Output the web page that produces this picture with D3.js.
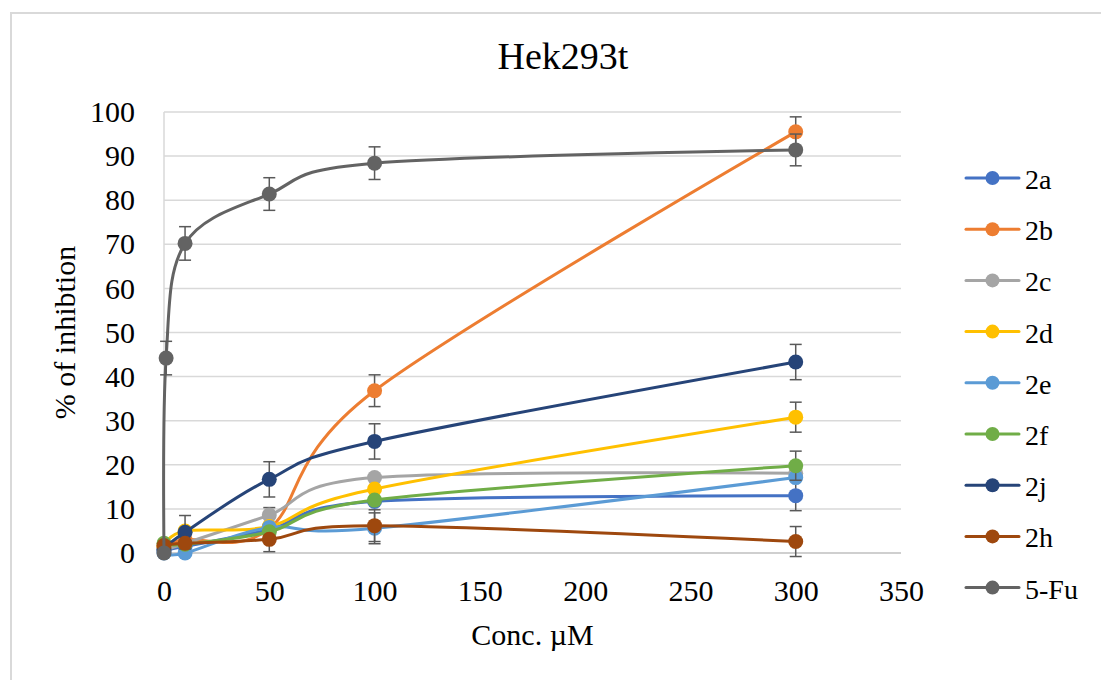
<!DOCTYPE html>
<html>
<head>
<meta charset="utf-8">
<script src="https://cdn.jsdelivr.net/npm/d3@7"></script>
<style>
    body { margin: 0; background: #ffffff; }
    text { font-family: "Liberation Serif", "Times New Roman", serif; fill: #000000; }
</style>
</head>
<body>
<svg id="graph" width="1101" height="680"></svg>
<script>
// Données
const concentrations = [0, 10, 50, 100, 300];
const concentrations5Fu = [0, 1, 10, 50, 100, 300];

const nomsSeries = ["2a", "2b", "2c", "2d", "2e", "2f", "2j", "2h", "5-Fu"];
const couleurs = ["#4472C4", "#ED7D31", "#A5A5A5", "#FFC000", "#5B9BD5", "#70AD47", "#264478", "#9E480E", "#636363"];

const valeurs2a = [0.5, 1.5, 5.3, 11.7, 13.0];
const valeurs2b = [1.5, 3.0, 5.5, 36.8, 95.5];
const valeurs2c = [0.5, 2.2, 8.6, 17.1, 18.1];
const valeurs2d = [1.5, 5.0, 6.0, 14.5, 30.8];
const valeurs2e = [0.0, 0.0, 5.8, 5.6, 17.1];
const valeurs2f = [2.2, 2.0, 4.8, 12.0, 19.8];
const valeurs2j = [0.8, 4.7, 16.7, 25.3, 43.3];
const valeurs2h = [1.7, 2.2, 3.1, 6.2, 2.6];
const valeurs5Fu = [0.0, 44.2, 70.2, 81.4, 88.4, 91.4];

// Barres d'erreur (0 = pas de barre visible)
const erreurs2a = [0, 0, 5.0, 0, 3.4];
const erreurs2b = [0, 0, 0, 3.6, 3.4];
const erreurs2c = [0, 0, 0, 0, 0];
const erreurs2d = [0, 0, 0, 0, 3.4];
const erreurs2e = [0, 0, 0, 3.5, 0];
const erreurs2f = [0, 0, 0, 0, 3.3];
const erreurs2j = [0, 3.8, 4.0, 4.0, 4.0];
const erreurs2h = [0, 0, 0, 3.6, 3.4];
const erreurs5Fu = [0, 3.8, 3.8, 3.7, 3.7, 3.6];

const xTicks = [0, 50, 100, 150, 200, 250, 300, 350];
const yTicks = [0, 10, 20, 30, 40, 50, 60, 70, 80, 90, 100];

const titre = "Hek293t";
const titreX = "Conc. µM";
const titreY = "% of inhibtion";

const police = '"Liberation Serif", "Times New Roman", serif';

// Construction des séries
const valeurs = [valeurs2a, valeurs2b, valeurs2c, valeurs2d, valeurs2e, valeurs2f, valeurs2j, valeurs2h, valeurs5Fu];
const erreurs = [erreurs2a, erreurs2b, erreurs2c, erreurs2d, erreurs2e, erreurs2f, erreurs2j, erreurs2h, erreurs5Fu];

const series = nomsSeries.map((nom, i) => {
    const xs = nom === "5-Fu" ? concentrations5Fu : concentrations;
    return {
        nom: nom,
        couleur: couleurs[i],
        points: xs.map((c, j) => ({ x: c, y: valeurs[i][j], err: erreurs[i][j] }))
    };
});

let svg = d3.select("svg");

// Cadre du graphique
svg.append("rect")
    .attr("x", 11)
    .attr("y", 13)
    .attr("width", 1200)
    .attr("height", 800)
    .attr("fill", "none")
    .attr("stroke", "#d9d9d9")
    .attr("stroke-width", 2);

// Échelles
const xScale = d3.scaleLinear().domain([0, 350]).range([164, 901]);
const yScale = d3.scaleLinear().domain([0, 100]).range([553, 112]);

// Lignes de grille horizontales
svg.append("g")
    .selectAll("line")
    .data(yTicks)
    .enter()
    .append("line")
    .attr("x1", xScale(0))
    .attr("x2", xScale(350))
    .attr("y1", d => yScale(d))
    .attr("y2", d => yScale(d))
    .attr("stroke", d => d === 0 ? "#bfbfbf" : "#d9d9d9")
    .attr("stroke-width", 1.5);

// Axe vertical (trait gris clair)
svg.append("line")
    .attr("x1", xScale(0))
    .attr("x2", xScale(0))
    .attr("y1", yScale(0))
    .attr("y2", yScale(100))
    .attr("stroke", "#d9d9d9")
    .attr("stroke-width", 1.5);

// Graduations
const yAxis = svg.append("g")
    .attr("transform", `translate(${xScale(0)},0)`)
    .attr("font-family", police)
    .call(d3.axisLeft(yScale).tickValues(yTicks).tickSize(0).tickPadding(29));
yAxis.select(".domain").remove();
yAxis.selectAll("text")
    .style("font-family", police)
    .style("font-size", "30px")
    .attr("fill", "#000");

const xAxis = svg.append("g")
    .attr("transform", `translate(0,${yScale(0)})`)
    .attr("font-family", police)
    .call(d3.axisBottom(xScale).tickValues(xTicks).tickSize(0).tickPadding(27));
xAxis.select(".domain").remove();
xAxis.selectAll("text")
    .style("font-family", police)
    .style("font-size", "30px")
    .attr("fill", "#000");

// Titres
svg.append("text")
    .text(titre)
    .attr("x", 563)
    .attr("y", 69)
    .attr("text-anchor", "middle")
    .style("font-size", "38px");

svg.append("text")
    .text(titreX)
    .attr("x", (xScale(0) + xScale(350)) / 2)
    .attr("y", 645)
    .attr("text-anchor", "middle")
    .style("font-size", "30px");

svg.append("text")
    .text(titreY)
    .attr("transform", `translate(75,${(yScale(0) + yScale(100)) / 2}) rotate(-90)`)
    .attr("text-anchor", "middle")
    .style("font-size", "30px");

// Courbes lissées
const ligne = d3.line()
    .x(d => xScale(d.x))
    .y(d => yScale(d.y))
    .curve(d3.curveCardinal.tension(0));

series.forEach(s => {
    const g = svg.append("g").attr("class", "serie");

    g.append("path")
        .attr("d", ligne(s.points))
        .attr("fill", "none")
        .attr("stroke", s.couleur)
        .attr("stroke-width", 3)
        .attr("stroke-linecap", "round");

    // Barres d'erreur
    const barres = g.selectAll(".err")
        .data(s.points.filter(p => p.err > 0))
        .enter()
        .append("g")
        .attr("class", "err")
        .attr("stroke", "#595959")
        .attr("stroke-width", 1.5);

    barres.append("line")
        .attr("x1", d => xScale(d.x))
        .attr("x2", d => xScale(d.x))
        .attr("y1", d => yScale(d.y - d.err))
        .attr("y2", d => yScale(d.y + d.err));

    [1, -1].forEach(signe => {
        barres.append("line")
            .attr("x1", d => xScale(d.x) - 6)
            .attr("x2", d => xScale(d.x) + 6)
            .attr("y1", d => yScale(d.y + signe * d.err))
            .attr("y2", d => yScale(d.y + signe * d.err));
    });

    // Marqueurs
    g.selectAll("circle")
        .data(s.points)
        .enter()
        .append("circle")
        .attr("cx", d => xScale(d.x))
        .attr("cy", d => yScale(d.y))
        .attr("r", 7.5)
        .attr("fill", s.couleur);
});

// Légende
const legende = svg.append("g")
    .selectAll(".legend-item")
    .data(series)
    .enter()
    .append("g")
    .attr("class", "legend-item")
    .attr("transform", (d, i) => `translate(0,${178 + i * 51.2})`);

legende.append("line")
    .attr("x1", 966)
    .attr("x2", 1019)
    .attr("stroke", d => d.couleur)
    .attr("stroke-width", 3)
    .attr("stroke-linecap", "round");

legende.append("circle")
    .attr("cx", 992.5)
    .attr("r", 7)
    .attr("fill", d => d.couleur);

legende.append("text")
    .text(d => d.nom)
    .attr("x", 1025)
    .attr("y", 11)
    .style("font-size", "28px");
</script>
</body>
</html>
